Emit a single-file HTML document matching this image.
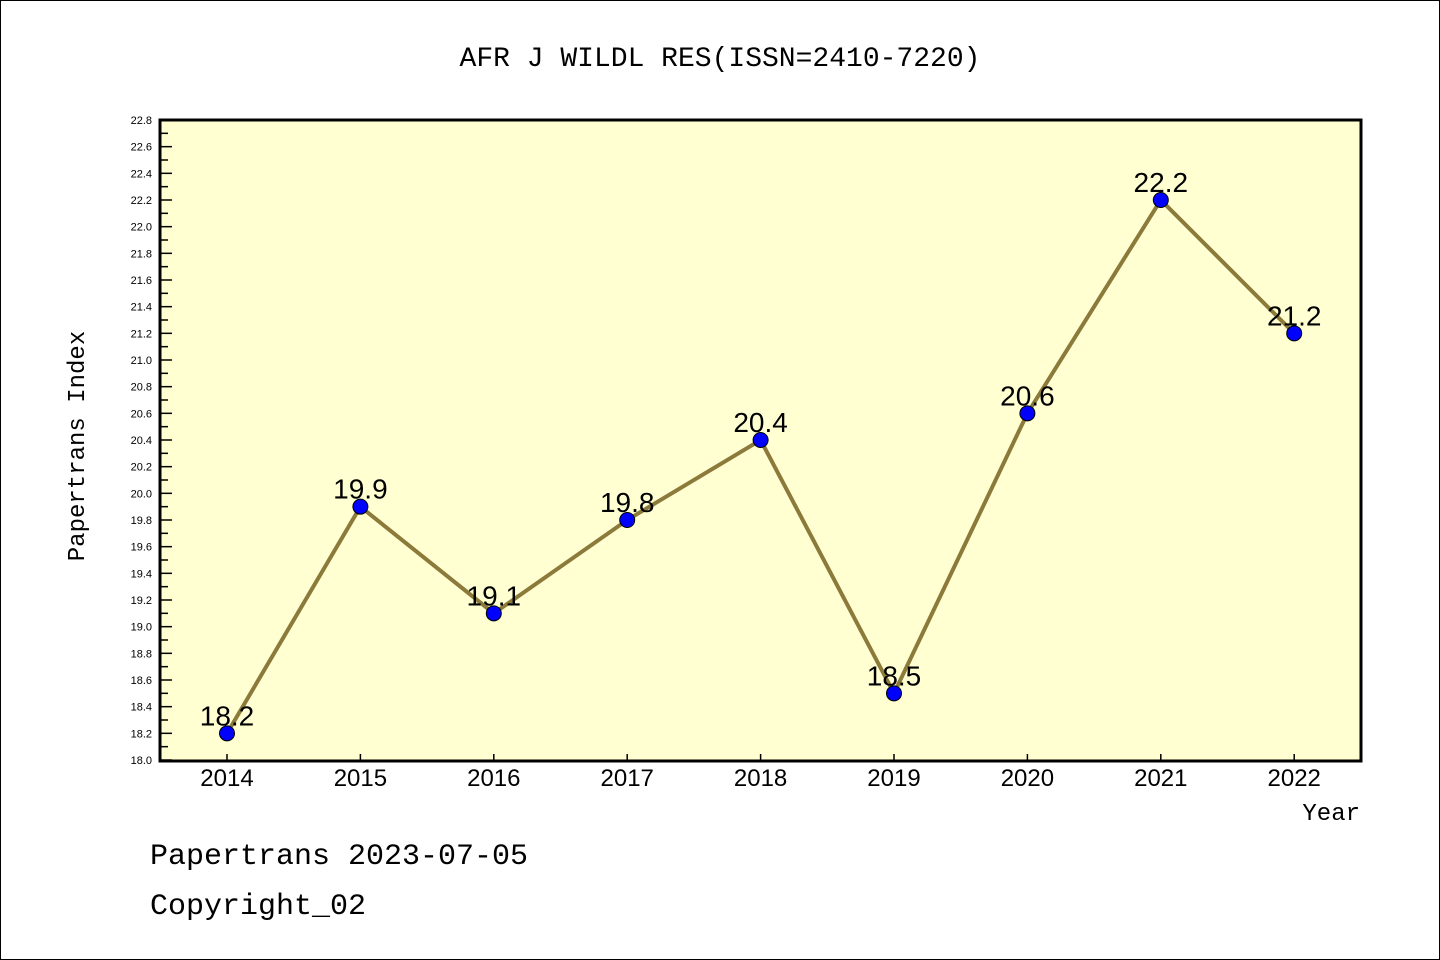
<!DOCTYPE html>
<html><head><meta charset="utf-8"><style>
html,body{margin:0;padding:0;background:#fff;}
svg{display:block;font-family:"Liberation Mono","DejaVu Sans Mono",monospace;}
</style></head><body>
<svg width="1440" height="960" viewBox="0 0 1440 960" xmlns="http://www.w3.org/2000/svg">
<rect x="0.5" y="0.5" width="1439" height="959" fill="#fff" stroke="#000"/>
<text x="720" y="66" text-anchor="middle" font-size="28">AFR J WILDL RES(ISSN=2410-7220)</text>
<rect x="160" y="120" width="1201" height="641" fill="#ffffd2"/>
<g id="yaxis"></g>
<g id="xaxis"></g>
<g id="series"></g>
<rect x="160" y="120" width="1201" height="641" fill="none" stroke="#000" stroke-width="3"/>
<text transform="translate(84,446) rotate(-90)" text-anchor="middle" font-size="24">Papertrans Index</text>
<text x="1360" y="820" text-anchor="end" font-size="24">Year</text>
<text x="150" y="864" font-size="30">Papertrans 2023-07-05</text>
<text x="150" y="914" font-size="30">Copyright_02</text>
</svg>
<script>
const years=["2014","2015","2016","2017","2018","2019","2020","2021","2022"];
const values=[18.2,19.9,19.1,19.8,20.4,18.5,20.6,22.2,21.2];
const labels=["18.2","19.9","19.1","19.8","20.4","18.5","20.6","22.2","21.2"];
const yMin=18.0,yMax=22.8;
const NS="http://www.w3.org/2000/svg";
function y(v){return 760-(v-yMin)/(yMax-yMin)*640;}
function x(i){return 227+i*133.4;}
function mk(t,a,p){const e=document.createElementNS(NS,t);for(const k in a)e.setAttribute(k,a[k]);p.appendChild(e);return e;}
const ya=document.getElementById('yaxis'),xa=document.getElementById('xaxis'),sg=document.getElementById('series');
for(let k=0;k<=48;k++){
 const v=yMin+k*0.1, yy=y(v), major=k%2===0;
 const t=mk('line',{x1:160,x2:160+(major?12:8),y1:yy,y2:yy,stroke:'#000','stroke-width':1.5},ya);
 
 
 if(major){const l=mk('text',{x:152,y:yy+4,'text-anchor':'end','font-size':11,'font-family':'Liberation Sans, sans-serif'},ya);l.textContent=v.toFixed(1);
 
 }
}
years.forEach((yr,i)=>{
 const t=mk('line',{x1:x(i),x2:x(i),y1:761,y2:754,stroke:'#000','stroke-width':1.5},xa);
 
 
 const l=mk('text',{x:x(i),y:786,'text-anchor':'middle','font-size':24,'font-family':'Liberation Sans, sans-serif'},xa);l.textContent=yr;
 
 
});
const pts=values.map((v,i)=>x(i)+','+y(v)).join(' ');
const pl=mk('polyline',{points:pts,fill:'none',stroke:'#8b7a3a','stroke-width':4},sg);


values.forEach((v,i)=>{
 const l=mk('text',{x:x(i),y:y(v)-8,'text-anchor':'middle','font-size':28,'font-family':'Liberation Sans, sans-serif'},sg);l.textContent=labels[i];
 
 
});
values.forEach((v,i)=>{
 const c=mk('circle',{cx:x(i),cy:y(v),r:7.5,fill:'#0000ff',stroke:'#000','stroke-width':1},sg);
 
 
});
</script>
</body></html>
